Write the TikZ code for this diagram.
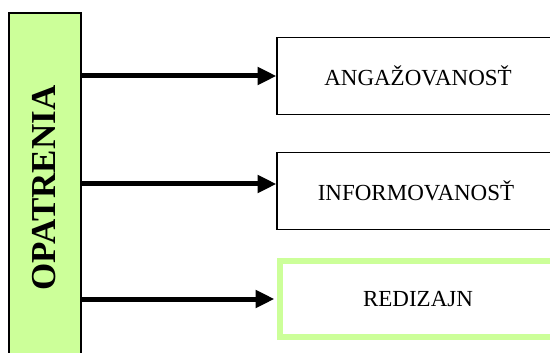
\documentclass[tikz,border=0pt]{standalone}
\usepackage{fontspec}
\setmainfont{Liberation Serif}
\usetikzlibrary{arrows.meta}
\definecolor{lightgreen}{HTML}{CCFF99}
\tikzset{
  x=1pt, y=-1pt,
  itembox/.style={draw=black, line width=1.8pt, fill=white, minimum width=284pt, minimum height=77pt, anchor=west, inner sep=0pt},
  greenbox/.style={itembox, draw=lightgreen, line width=6pt, minimum width=280pt, minimum height=76pt},
  itemtext/.style={font=\fontsize{23}{26}\selectfont},
  link/.style={line width=5pt, -{Triangle[length=19pt,width=17pt]}, shorten >=-0.5pt},
}
\begin{document}
\begin{tikzpicture}
  \useasboundingbox (0,0) rectangle (550,353);
  % vertical heading bar, running past the lower edge
  \node[draw=black, line width=1.8pt, fill=lightgreen, minimum width=72pt, minimum height=360pt, inner sep=0pt, anchor=north west] (bar) at (8,12) {};
  \node[rotate=90, font=\bfseries\fontsize{35}{38}\selectfont] (title) at (44,188) {OPATRENIA};
  % items
  \node[itembox] (a) at (276,76) {};
  \node[itemtext] (atext) at (418,76) {ANGAŽOVANOSŤ};
  \node[itembox] (b) at (276,191) {};
  \node[itemtext] (btext) at (416,191) {INFORMOVANOSŤ};
  \node[greenbox] (c) at (277,299) {};
  \node[itemtext] (ctext) at (418,299) {REDIZAJN};
  % connectors
  \coordinate (bin) at ([yshift=7pt]b.west);
  \draw[link] (bar.east |- a.west) -- (a.west);
  \draw[link] (bar.east |- bin) -- (bin);
  \draw[link] (bar.east |- c.west) -- ([xshift=-3pt]c.west);
\end{tikzpicture}
\end{document}
